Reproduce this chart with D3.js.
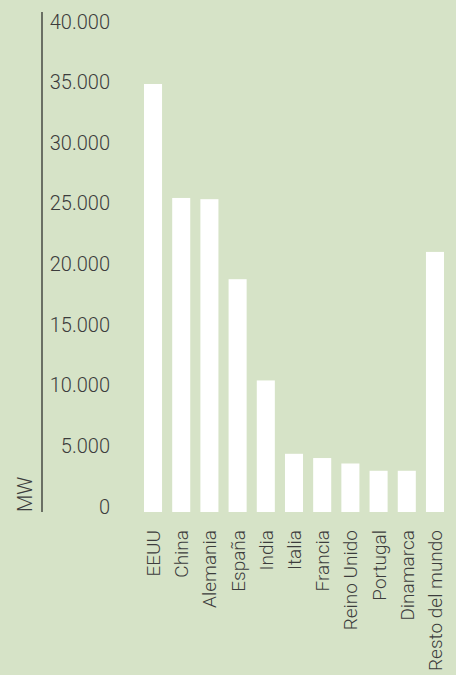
<!DOCTYPE html>
<html>
<head>
<meta charset="utf-8">
<script src="https://cdn.jsdelivr.net/npm/d3@7"></script>
<style>
html,body{margin:0;padding:0;background:#d6e3c7;}
svg{display:block;}
text{font-family:Roboto,"Liberation Sans",Arial,sans-serif;font-weight:300;fill:#3c3c3c;}
</style>
</head>
<body>
<script>
const categories = ["EEUU","China","Alemania","España","India","Italia","Francia","Reino Unido","Portugal","Dinamarca","Resto del mundo"];
const values = [35300, 25900, 25800, 19200, 10850, 4800, 4450, 4000, 3400, 3400, 21450];
const tickValues = [0, 5000, 10000, 15000, 20000, 25000, 30000, 35000, 40000];
const tickLabels = ["0","5.000","10.000","15.000","20.000","25.000","30.000","35.000","40.000"];
const yTitle = "MW";

const W = 456, H = 675;
const svg = d3.select("body").append("svg").attr("width", W).attr("height", H);
svg.append("rect").attr("width", W).attr("height", H).attr("fill", "#d6e3c7");

const y = d3.scaleLinear().domain([0, 40000]).range([512, 27]);
const x = d3.scaleBand().domain(categories).range([144, 444]).paddingInner(0.36).paddingOuter(0);

// axis line
svg.append("line").attr("x1", 42).attr("x2", 42).attr("y1", 12).attr("y2", 512)
  .attr("stroke", "#222").attr("stroke-width", 1.2);

// tick labels
svg.append("g").selectAll("text").data(tickValues).join("text")
  .attr("x", 110).attr("y", d => y(d) + 1.5)
  .attr("text-anchor", "end").attr("font-size", 20)
  .text((d, i) => tickLabels[i]);

// y title
svg.append("text").attr("transform", "translate(32,512) rotate(-90)")
  .attr("text-anchor", "start").attr("font-size", 20).text(yTitle);

// bars
svg.append("g").selectAll("rect").data(values).join("rect")
  .attr("x", (d, i) => x(categories[i]))
  .attr("width", x.bandwidth())
  .attr("y", d => y(d))
  .attr("height", d => y(0) - y(d))
  .attr("fill", "#ffffff");

// category labels
svg.append("g").selectAll("text").data(categories).join("text")
  .attr("transform", d => `translate(${x(d) + x.bandwidth() / 2 + 7},530) rotate(-90)`)
  .attr("text-anchor", "end").attr("font-size", 19)
  .text(d => d);
</script>
</body>
</html>
